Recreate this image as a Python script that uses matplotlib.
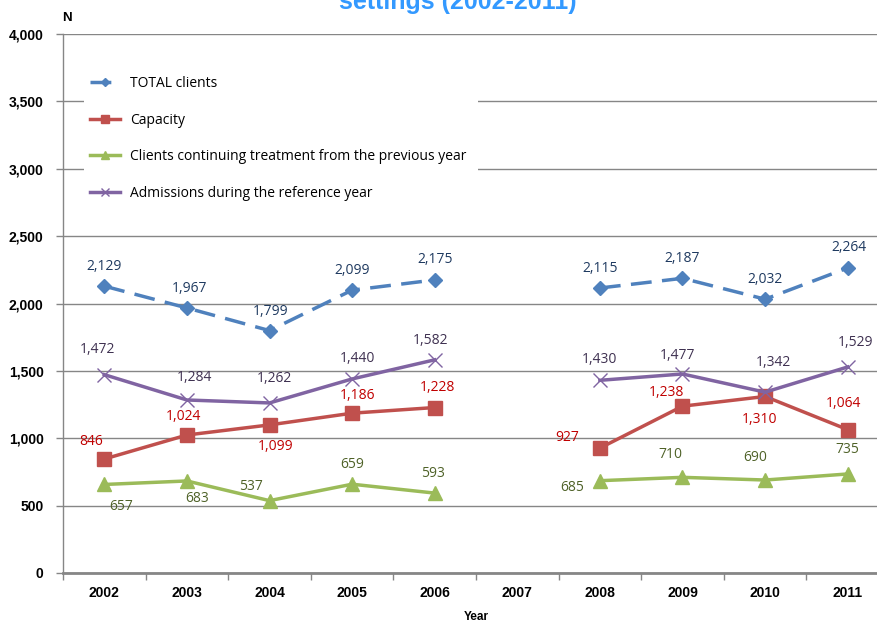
import matplotlib.pyplot as plt
import numpy as np
from matplotlib.ticker import FuncFormatter, MultipleLocator

years = ["2002", "2003", "2004", "2005", "2006", "2007", "2008", "2009", "2010", "2011"]

# 2007 has no data, so the series break there
total_clients = [2129, 1967, 1799, 2099, 2175, np.nan, 2115, 2187, 2032, 2264]
capacity = [846, 1024, 1099, 1186, 1228, np.nan, 927, 1238, 1310, 1064]
continuing = [657, 683, 537, 659, 593, np.nan, 685, 710, 690, 735]
admissions = [1472, 1284, 1262, 1440, 1582, np.nan, 1430, 1477, 1342, 1529]

series_names = [
    "TOTAL clients",
    "Capacity",
    "Clients continuing treatment from the previous year",
    "Admissions during the reference year",
]

# label offsets in pixels (dx, dy), one per year
total_offsets = [(0, 20), (3, 19), (1, 19), (0, 20), (0, 20), None, (0, 20), (0, 20), (0, 20), (1, 20)]
capacity_offsets = [(-13, 18), (-3, 19), (6, -22), (5, 18), (3, 20), None, (-33, 11), (-16, 14), (-6, -23), (-4, 26)]
continuing_offsets = [(17, -22), (10, -18), (-19, 14), (0, 20), (-2, 20), None, (-28, -7), (-12, 23), (-10, 23), (0, 24)]
admissions_offsets = [(-7, 25), (8, 22), (5, 24), (5, 20), (-4, 19), None, (0, 21), (-5, 18), (8, 30), (8, 24)]

LABEL_FONT = "Open Sans"
TICK_FONT = "Liberation Sans"


def thousands(value, _pos):
    return f"{int(value):,}"


def label_points(ax, values, offsets, color):
    for idx, (value, offset) in enumerate(zip(values, offsets)):
        if offset is None or np.isnan(value):
            continue
        ax.annotate(
            f"{int(value):,}",
            xy=(idx, value),
            xytext=offset,
            textcoords="offset pixels",
            ha="center",
            va="center",
            fontsize=10,
            family=LABEL_FONT,
            color=color,
        )


fig = plt.figure(figsize=(8.78, 6.24), dpi=100)
ax = fig.add_axes([63 / 878, 51 / 624, 826 / 878, 539 / 624])

x = np.arange(len(years))

ax.plot(x, total_clients, color="#4F81BD", lw=2.5, linestyle=(0, (6, 3)),
        marker="D", ms=7, label=series_names[0], zorder=4)
ax.plot(x, capacity, color="#C0504D", lw=2.5, marker="s", ms=9.5,
        label=series_names[1], zorder=4)
ax.plot(x, continuing, color="#9BBB59", lw=2.5, marker="^", ms=10.5,
        label=series_names[2], zorder=4)
ax.plot(x, admissions, color="#8064A2", lw=2.5, marker="x", ms=10, mew=1,
        label=series_names[3], zorder=4)

label_points(ax, total_clients, total_offsets, "#1F3A60")
label_points(ax, capacity, capacity_offsets, "#C00000")
label_points(ax, continuing, continuing_offsets, "#4F6228")
label_points(ax, admissions, admissions_offsets, "#3F3151")

ax.set_xlim(-0.5, len(years) - 0.5)
ax.set_ylim(0, 4000)

ax.yaxis.set_major_locator(MultipleLocator(500))
ax.yaxis.set_major_formatter(FuncFormatter(thousands))
ax.set_xticks(x)
ax.set_xticklabels(years)
ax.set_xticks(np.arange(-0.5, len(years), 1), minor=True)

ax.tick_params(axis="x", which="major", length=0, pad=9.5)
ax.tick_params(axis="x", which="minor", length=5, width=1, color="#868686", direction="out")
ax.tick_params(axis="y", which="major", length=5, width=1, color="#868686", direction="out", pad=9)
for lbl in ax.get_xticklabels() + ax.get_yticklabels():
    lbl.set_fontfamily(TICK_FONT)
    lbl.set_fontweight("bold")
    lbl.set_fontsize(10)

ax.grid(axis="y", color="#868686", lw=1)
ax.set_axisbelow(True)
ax.yaxis.get_gridlines()[-1].set_visible(False)

for side in ("top", "right"):
    ax.spines[side].set_visible(False)
ax.spines["left"].set_color("#868686")
ax.spines["left"].set_linewidth(1)
ax.spines["bottom"].set_color("#868686")
ax.spines["bottom"].set_linewidth(2)

leg = ax.legend(
    loc="upper left",
    bbox_to_anchor=(21 / 826, 0.932, 394 / 826, 0.0),
    mode="expand",
    frameon=True,
    fancybox=False,
    facecolor="white",
    edgecolor="none",
    framealpha=1,
    prop={"family": LABEL_FONT, "size": 10},
    markerscale=0.6,
    handlelength=2.2,
    handletextpad=0.7,
    labelspacing=1.55,
    borderpad=0.4,
    borderaxespad=0,
)

ax.set_xlabel("Year", fontsize=8.5, fontweight="bold", family=TICK_FONT, labelpad=8)
fig.text(67 / 878, 1 - 18 / 624, "N", fontsize=9.5, fontweight="bold",
         family=TICK_FONT, ha="center", va="center")
fig.text(458 / 878, 1 - 9 / 624, "settings (2002-2011)", fontsize=18,
         fontweight="bold", family=TICK_FONT, color="#3399FF",
         ha="center", va="baseline")

fig.savefig("out.png", dpi=100)
